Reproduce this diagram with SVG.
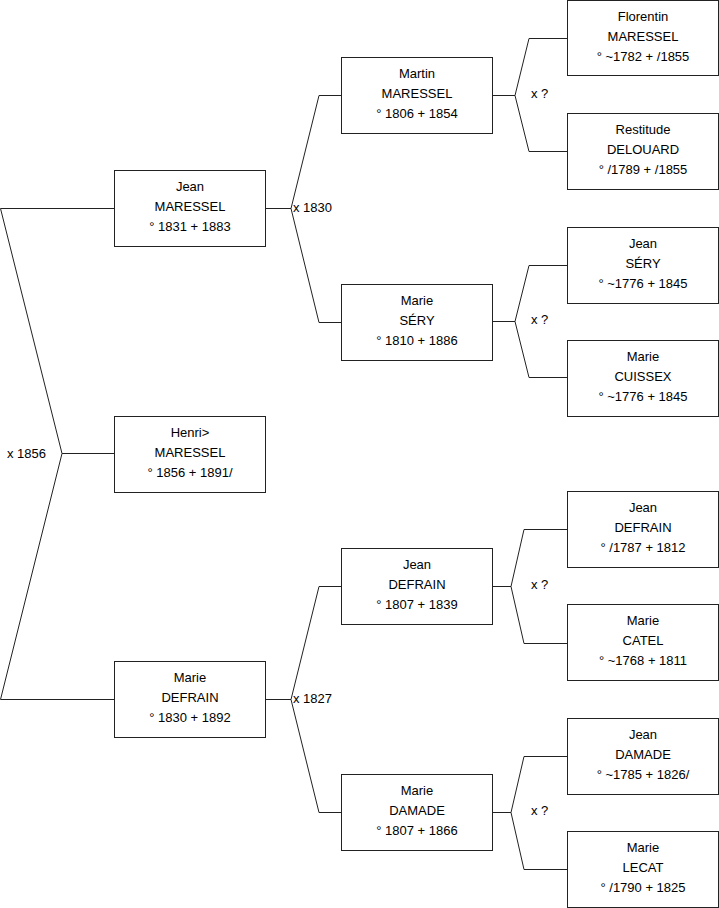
<svg xmlns="http://www.w3.org/2000/svg" width="719" height="908" viewBox="0 0 719 908">
<style>
.box{fill:#fff;stroke:#222;stroke-width:1}
.t{font-family:"Liberation Sans",Arial,sans-serif;font-size:13px;fill:#000;text-anchor:middle}
.l{font-family:"Liberation Sans",Arial,sans-serif;font-size:13px;fill:#000}
.c{fill:none;stroke:#222;stroke-width:1}
</style>
<rect width="719" height="908" fill="#fff"/>
<g id="connectors">
<polyline class="c" points="114,208.5 0.5,208.5 62,453.5 0.5,699.5 114,699.5"/>
<line class="c" x1="62" y1="453.5" x2="114" y2="453.5"/>
<polyline class="c" points="265,208.5 291,208.5"/>
<polyline class="c" points="341,95.5 319,95.5 291,208.5 319,322.5 341,322.5"/>
<polyline class="c" points="265,699.5 291,699.5"/>
<polyline class="c" points="341,586.5 319,586.5 291,699.5 319,812.5 341,812.5"/>
<polyline class="c" points="567,38.5 529,38.5 515,95.5 529,151.5 567,151.5"/>
<line class="c" x1="492" y1="95.5" x2="515" y2="95.5"/>
<polyline class="c" points="567,265.5 529,265.5 515,321.5 529,377.5 567,377.5"/>
<line class="c" x1="492" y1="321.5" x2="515" y2="321.5"/>
<polyline class="c" points="567,529.5 524,529.5 511,586.5 524,643.5 567,643.5"/>
<line class="c" x1="492" y1="586.5" x2="511" y2="586.5"/>
<polyline class="c" points="567,756.5 524,756.5 511,812.5 524,869.5 567,869.5"/>
<line class="c" x1="492" y1="812.5" x2="511" y2="812.5"/>
<text class="l" x="7" y="458">x 1856</text>
<text class="l" x="293" y="212">x 1830</text>
<text class="l" x="293" y="703">x 1827</text>
<text class="l" x="531" y="98">x ?</text>
<text class="l" x="531" y="324">x ?</text>
<text class="l" x="531" y="589">x ?</text>
<text class="l" x="531" y="815">x ?</text>
</g>
<g id="n1"><rect class="box" x="114.5" y="170.5" width="151" height="76"/><text class="t" x="190" y="191">Jean</text><text class="t" x="190" y="211">MARESSEL</text><text class="t" x="190" y="231">° 1831 + 1883</text></g>
<g id="n2"><rect class="box" x="114.5" y="416.5" width="151" height="76"/><text class="t" x="190" y="437">Henri&gt;</text><text class="t" x="190" y="457">MARESSEL</text><text class="t" x="190" y="477">° 1856 + 1891/</text></g>
<g id="n3"><rect class="box" x="114.5" y="661.5" width="151" height="76"/><text class="t" x="190" y="682">Marie</text><text class="t" x="190" y="702">DEFRAIN</text><text class="t" x="190" y="722">° 1830 + 1892</text></g>
<g id="n4"><rect class="box" x="341.5" y="57.5" width="151" height="76"/><text class="t" x="417" y="78">Martin</text><text class="t" x="417" y="98">MARESSEL</text><text class="t" x="417" y="118">° 1806 + 1854</text></g>
<g id="n5"><rect class="box" x="341.5" y="284.5" width="151" height="76"/><text class="t" x="417" y="305">Marie</text><text class="t" x="417" y="325">SÉRY</text><text class="t" x="417" y="345">° 1810 + 1886</text></g>
<g id="n6"><rect class="box" x="341.5" y="548.5" width="151" height="76"/><text class="t" x="417" y="569">Jean</text><text class="t" x="417" y="589">DEFRAIN</text><text class="t" x="417" y="609">° 1807 + 1839</text></g>
<g id="n7"><rect class="box" x="341.5" y="774.5" width="151" height="76"/><text class="t" x="417" y="795">Marie</text><text class="t" x="417" y="815">DAMADE</text><text class="t" x="417" y="835">° 1807 + 1866</text></g>
<g id="n8"><rect class="box" x="567.5" y="0.5" width="151" height="75"/><text class="t" x="643" y="21">Florentin</text><text class="t" x="643" y="41">MARESSEL</text><text class="t" x="643" y="61">° ~1782 + /1855</text></g>
<g id="n9"><rect class="box" x="567.5" y="113.5" width="151" height="76"/><text class="t" x="643" y="134">Restitude</text><text class="t" x="643" y="154">DELOUARD</text><text class="t" x="643" y="174">° /1789 + /1855</text></g>
<g id="n10"><rect class="box" x="567.5" y="227.5" width="151" height="76"/><text class="t" x="643" y="248">Jean</text><text class="t" x="643" y="268">SÉRY</text><text class="t" x="643" y="288">° ~1776 + 1845</text></g>
<g id="n11"><rect class="box" x="567.5" y="340.5" width="151" height="76"/><text class="t" x="643" y="361">Marie</text><text class="t" x="643" y="381">CUISSEX</text><text class="t" x="643" y="401">° ~1776 + 1845</text></g>
<g id="n12"><rect class="box" x="567.5" y="491.5" width="151" height="76"/><text class="t" x="643" y="512">Jean</text><text class="t" x="643" y="532">DEFRAIN</text><text class="t" x="643" y="552">° /1787 + 1812</text></g>
<g id="n13"><rect class="box" x="567.5" y="604.5" width="151" height="76"/><text class="t" x="643" y="625">Marie</text><text class="t" x="643" y="645">CATEL</text><text class="t" x="643" y="665">° ~1768 + 1811</text></g>
<g id="n14"><rect class="box" x="567.5" y="718.5" width="151" height="76"/><text class="t" x="643" y="739">Jean</text><text class="t" x="643" y="759">DAMADE</text><text class="t" x="643" y="779">° ~1785 + 1826/</text></g>
<g id="n15"><rect class="box" x="567.5" y="831.5" width="151" height="76"/><text class="t" x="643" y="852">Marie</text><text class="t" x="643" y="872">LECAT</text><text class="t" x="643" y="892">° /1790 + 1825</text></g>
</svg>
